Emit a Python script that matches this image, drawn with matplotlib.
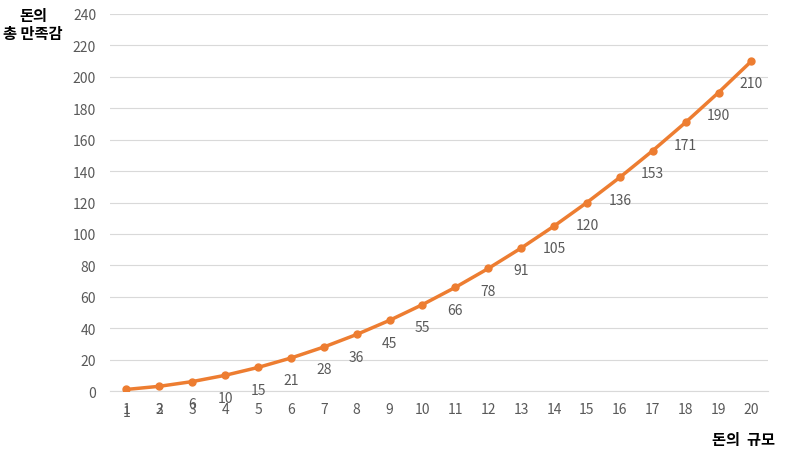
import matplotlib.pyplot as plt
import numpy as np

plt.rcParams['font.family'] = ['Noto Sans CJK KR', 'DejaVu Sans']

# 돈의 규모 -> 총 만족감
money = list(range(1, 21))
satisfaction = [1, 3, 6, 10, 15, 21, 28, 36, 45, 55, 66, 78, 91, 105, 120, 136, 153, 171, 190, 210]
y_ticks = list(range(0, 241, 20))

line_color = '#ED7D31'
text_color = '#595959'
grid_color = '#D9D9D9'

fig = plt.figure(figsize=(7.99, 4.6), dpi=100)
ax = fig.add_axes([0.1377, 0.1478, 0.8233, 0.8196])

ax.plot(money, satisfaction, color=line_color, linewidth=2.5,
        marker='o', markersize=5, zorder=3)

for x, y in zip(money, satisfaction):
    ax.annotate(str(y), (x, y), xytext=(0, -16), textcoords='offset points',
                ha='center', va='center', fontsize=10, color=text_color)

ax.set_xlim(0.5, 20.5)
ax.set_ylim(0, 240)
ax.set_yticks(y_ticks)
ax.set_xticks(money)
ax.grid(axis='y', color=grid_color, linewidth=0.8)
ax.set_axisbelow(True)
for s in ['top', 'right', 'left']:
    ax.spines[s].set_visible(False)
ax.spines['bottom'].set_color(grid_color)
ax.spines['bottom'].set_linewidth(0.8)
ax.tick_params(axis='both', length=0, labelsize=10, labelcolor=text_color)
ax.tick_params(axis='y', pad=10)
ax.tick_params(axis='x', pad=8)

fig.text(33 / 799, 1 - 25 / 460, '돈의\n총 만족감', ha='center', va='center',
         fontsize=11, fontweight='bold', linespacing=1.2)
fig.text(744 / 799, 1 - 440 / 460, '돈의  규모', ha='center', va='center',
         fontsize=11, fontweight='bold')

fig.savefig('out.png', dpi=100)
